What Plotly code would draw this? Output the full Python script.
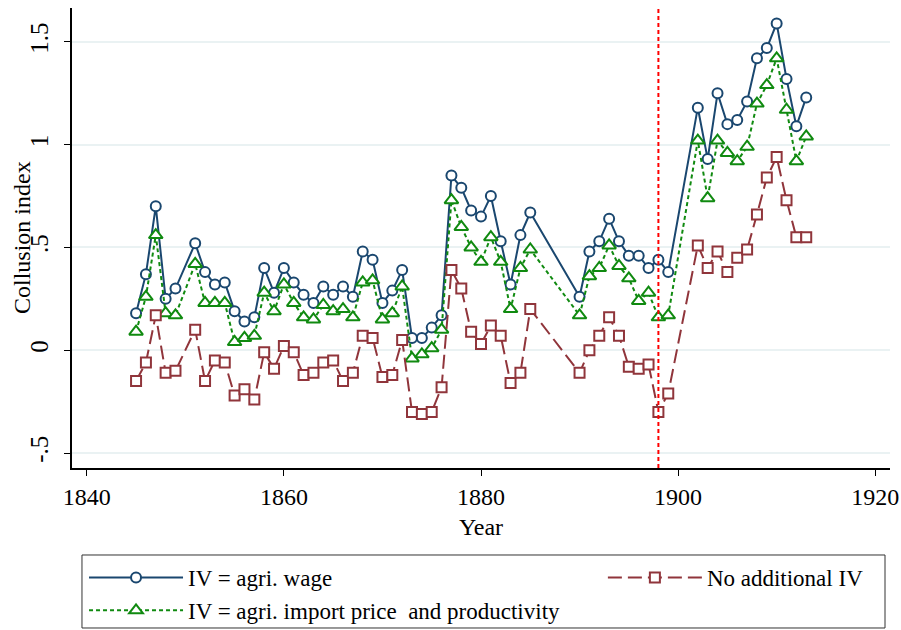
import plotly.graph_objects as go

years = [1845, 1846, 1847, 1848, 1849,
         1851, 1852, 1853, 1854, 1855, 1856, 1857, 1858, 1859,
         1860, 1861, 1862, 1863, 1864, 1865, 1866, 1867, 1868, 1869,
         1870, 1871, 1872, 1873, 1874, 1875, 1876, 1877, 1878, 1879,
         1880, 1881, 1882, 1883, 1884, 1885,
         1890, 1891, 1892, 1893, 1894, 1895, 1896, 1897, 1898, 1899,
         1902, 1903, 1904, 1905, 1906, 1907, 1908, 1909, 1910, 1911, 1912, 1913]

iv_wage = [0.18, 0.37, 0.70, 0.25, 0.30,
           0.52, 0.38, 0.32, 0.33, 0.19, 0.14, 0.16, 0.40, 0.28,
           0.40, 0.33, 0.27, 0.23, 0.31, 0.27, 0.31, 0.26, 0.48, 0.44,
           0.23, 0.29, 0.39, 0.06, 0.06, 0.11, 0.17, 0.85, 0.79, 0.68,
           0.65, 0.75, 0.53, 0.32, 0.56, 0.67,
           0.26, 0.48, 0.53, 0.64, 0.53, 0.46, 0.46, 0.40, 0.44, 0.38,
           1.18, 0.93, 1.25, 1.10, 1.12, 1.21, 1.42, 1.47, 1.59, 1.32, 1.09, 1.23]

iv_import = [0.09, 0.26, 0.56, 0.18, 0.17,
             0.42, 0.23, 0.23, 0.23, 0.04, 0.06, 0.07, 0.28, 0.19,
             0.32, 0.23, 0.16, 0.15, 0.22, 0.19, 0.20, 0.16, 0.33, 0.34,
             0.15, 0.18, 0.31, -0.04, -0.02, 0.01, 0.10, 0.73, 0.60, 0.50,
             0.43, 0.55, 0.43, 0.20, 0.40, 0.49,
             0.17, 0.36, 0.40, 0.51, 0.41, 0.35, 0.24, 0.28, 0.16, 0.17,
             1.02, 0.74, 1.02, 0.96, 0.92, 0.99, 1.20, 1.29, 1.42, 1.17, 0.92, 1.04]

no_iv = [-0.15, -0.06, 0.17, -0.11, -0.10,
         0.10, -0.15, -0.05, -0.06, -0.22, -0.19, -0.24, -0.01, -0.09,
         0.02, -0.01, -0.12, -0.11, -0.06, -0.05, -0.15, -0.11, 0.07, 0.06,
         -0.13, -0.12, 0.05, -0.30, -0.31, -0.30, -0.18, 0.39, 0.30, 0.09,
         0.03, 0.12, 0.07, -0.16, -0.11, 0.20,
         -0.11, 0.00, 0.07, 0.16, 0.07, -0.08, -0.09, -0.07, -0.30, -0.21,
         0.51, 0.40, 0.48, 0.38, 0.45, 0.49, 0.66, 0.84, 0.94, 0.73, 0.55, 0.55]

y_ticks = [-0.5, 0, 0.5, 1, 1.5]
y_labels = ["-.5", "0", ".5", "1", "1.5"]
x_ticks = [1840, 1860, 1880, 1900, 1920]
break_year = 1898

navy = "#1a476f"
maroon = "#90353b"
green = "#108a10"
font = "Liberation Serif"

fig = go.Figure()

fig.add_trace(go.Scatter(
    x=years, y=iv_wage, name="IV = agri. wage", mode="lines+markers",
    line=dict(color=navy, width=2),
    marker=dict(symbol="circle", size=10, color="white", line=dict(color=navy, width=2)),
    legend="legend",
))
fig.add_trace(go.Scatter(
    x=years, y=iv_import, name="IV = agri. import price  and productivity", mode="lines+markers",
    line=dict(color=green, width=2, dash="4px,3px"),
    marker=dict(symbol="triangle-up", size=12, color="white", line=dict(color=green, width=2)),
    legend="legend",
))
fig.add_trace(go.Scatter(
    x=years, y=no_iv, name="No additional IV", mode="lines+markers",
    line=dict(color=maroon, width=2, dash="14px,6px"),
    marker=dict(symbol="square", size=10, color="white", line=dict(color=maroon, width=2)),
    legend="legend2",
))

# break line
fig.add_shape(type="line", x0=break_year, x1=break_year, y0=0, y1=1,
              xref="x", yref="paper", line=dict(color="red", width=2, dash="4px,3px"))

# legend frame
fig.add_shape(type="rect", xref="paper", yref="paper",
              x0=0.0122, x1=0.9939, y0=-0.3478, y1=-0.1891,
              line=dict(color="#333333", width=1), fillcolor="rgba(0,0,0,0)")

# y title as annotation so it sits where the reference has it
fig.add_annotation(text="Collusion index", xref="paper", yref="paper",
                   x=-0.0611, y=0.5, xanchor="center", yanchor="middle",
                   textangle=-90, showarrow=False, font=dict(family=font, size=24))

legend_style = dict(
    orientation="v", xanchor="left", yanchor="top",
    bgcolor="rgba(0,0,0,0)", borderwidth=0, itemwidth=94,
    font=dict(family=font, size=23), tracegroupgap=0,
)

fig.update_layout(
    width=901, height=630,
    margin=dict(l=72, r=11, t=8, b=162, autoexpand=False),
    paper_bgcolor="white", plot_bgcolor="white",
    font=dict(family=font, size=23, color="black"),
    legend=dict(x=0.0147, y=-0.1913, **legend_style),
    legend2=dict(x=0.649, y=-0.1913, **legend_style),
    xaxis=dict(
        range=[1838.5, 1921.5], tickvals=x_ticks, showgrid=False, zeroline=False,
        showline=True, linecolor="black", linewidth=1.5,
        ticks="outside", ticklen=6, tickcolor="black", ticklabelstandoff=0,
        ticklabeloverflow="allow",
        title=dict(text="Year", font=dict(family=font, size=24), standoff=10),
        tickfont=dict(family=font, size=24),
    ),
    yaxis=dict(
        range=[-0.573, 1.665], tickvals=y_ticks, ticktext=y_labels, tickangle=-90,
        showgrid=True, gridcolor="#eaf2f3", gridwidth=1.5, zeroline=False,
        showline=True, linecolor="black", linewidth=1.5,
        ticks="outside", ticklen=6, tickcolor="black", ticklabelstandoff=6,
        tickfont=dict(family=font, size=25),
    ),
)

# drop the page's default body margin so the figure fills the window exactly
fig.write_html("out.html", config={"displayModeBar": False},
               post_script="document.body.style.margin='0';document.body.style.overflow='hidden';")
